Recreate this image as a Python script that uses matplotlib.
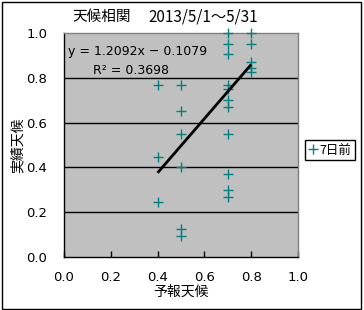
import matplotlib
matplotlib.use("Agg")
import matplotlib.pyplot as plt
from matplotlib.patches import Rectangle
from matplotlib.lines import Line2D
import numpy as np

plt.rcParams['font.family'] = ['Noto Sans CJK JP', 'DejaVu Sans']

# Data
forecast_04 = [0.4, 0.4, 0.4]
actual_04 = [0.77, 0.445, 0.245]
forecast_05 = [0.5, 0.5, 0.5, 0.5, 0.5, 0.5]
actual_05 = [0.77, 0.65, 0.55, 0.40, 0.125, 0.092]
forecast_07 = [0.7] * 11
actual_07 = [1.00, 0.95, 0.905, 0.77, 0.75, 0.70, 0.67, 0.55, 0.37, 0.30, 0.27]
forecast_08 = [0.8] * 5
actual_08 = [1.00, 0.95, 0.87, 0.845, 0.825]

slope = 1.2092
intercept = -0.1079
r_squared = 0.3698
fit_x = [0.4, 0.8]

series_label = "7日前"
title_cjk = "天候相関"
title_dates = "2013/5/1～5/31"
xlabel_text = "予報天候"
ylabel_text = "実績天候"
ticks = [0.0, 0.2, 0.4, 0.6, 0.8, 1.0]
tick_labels = ["0.0", "0.2", "0.4", "0.6", "0.8", "1.0"]

xs = forecast_04 + forecast_05 + forecast_07 + forecast_08
ys = actual_04 + actual_05 + actual_07 + actual_08

W, H = 364, 310
fig = plt.figure(figsize=(W / 100, H / 100), dpi=100)
fig.patch.set_facecolor('white')

ax = fig.add_axes([64 / W, 1 - 257 / H, (298 - 64) / W, (257 - 33) / H])
ax.set_facecolor('#C0C0C0')
ax.set_xlim(0, 1)
ax.set_ylim(0, 1)

for y in [0.2, 0.4, 0.6, 0.8]:
    ax.axhline(y, color='black', lw=1.0, zorder=1)

teal = '#008080'
ax.plot(xs, ys, linestyle='none', marker='+', color=teal, markersize=7.5,
        markeredgewidth=1.0, zorder=3, clip_on=False)

fx = np.array(fit_x)
ax.plot(fx, slope * fx + intercept, color='black', lw=2.0, zorder=4,
        solid_capstyle='butt')

ax.text(68 / W, 1 - 52 / H, f"y = {slope:.4f}x \u2212 {abs(intercept):.4f}",
        transform=fig.transFigure, fontsize=9, va='center', ha='left',
        family='DejaVu Sans')
ax.text(93 / W, 1 - 70 / H, f"R² = {r_squared:.4f}",
        transform=fig.transFigure, fontsize=9, va='center', ha='left',
        family='DejaVu Sans')

ax.set_xticks(ticks)
ax.set_xticklabels(tick_labels)
ax.set_yticks(ticks)
ax.set_yticklabels(tick_labels)
ax.tick_params(axis='x', direction='in', length=4, width=1, color='black',
               pad=10, labelsize=9.5)
ax.tick_params(axis='y', length=0, pad=12, labelsize=9.5)
for lbl in ax.get_xticklabels() + ax.get_yticklabels():
    lbl.set_family('DejaVu Sans')

ax.spines['left'].set_color('black')
ax.spines['bottom'].set_color('black')
ax.spines['right'].set_color('#808080')
ax.spines['top'].set_color('#808080')
ax.spines['top'].set_linestyle((0, (1, 1)))
for s in ax.spines.values():
    s.set_linewidth(1.0)

fig.text(72 / W, 1 - 17 / H, title_cjk, fontsize=10.5, va='center', ha='left')
fig.text(148 / W, 1 - 17 / H, title_dates, fontsize=11, va='center', ha='left')
fig.text(181 / W, 1 - 292 / H, xlabel_text, fontsize=10, va='center', ha='center')
fig.text(18 / W, 1 - 145 / H, ylabel_text, fontsize=10, va='center', ha='center',
         rotation=90)

handle = Line2D([], [], linestyle='none', marker='+', color=teal,
                markersize=7.5, markeredgewidth=1.0)
leg = fig.legend([handle], [series_label], loc='center',
                 bbox_to_anchor=(330 / W, 1 - 150 / H),
                 bbox_transform=fig.transFigure, fancybox=False,
                 edgecolor='black', framealpha=1, fontsize=9,
                 handlelength=0.6, handletextpad=0.2, borderpad=0.3,
                 borderaxespad=0)
leg.get_frame().set_linewidth(1.0)

fig.patches.append(Rectangle((1.5 / W, 1.5 / H), 359.5 / W, 306.5 / H,
                             transform=fig.transFigure, fill=False,
                             edgecolor='black', lw=1.0))

fig.savefig('out.png', dpi=100)
